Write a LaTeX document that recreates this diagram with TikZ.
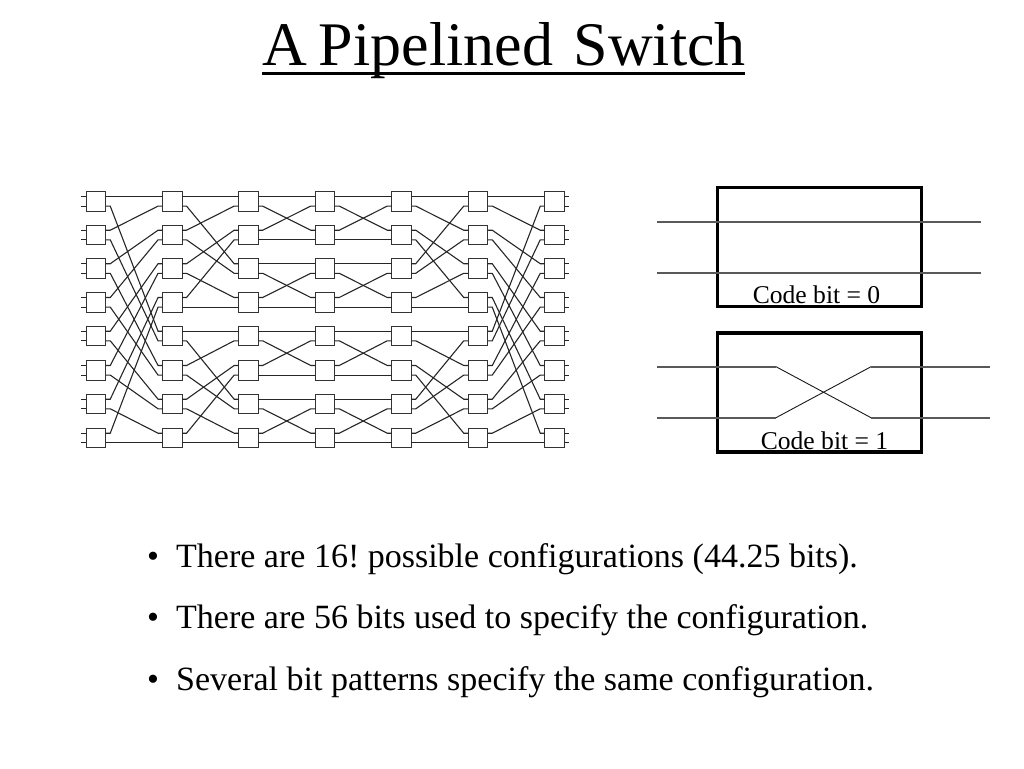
\documentclass[tikz,border=0pt]{standalone}
\usepackage{fontspec}
\setmainfont{Liberation Serif}
\tikzset{
  sw/.style={draw=black!80,line width=1.1pt,minimum width=19.5pt,minimum height=19.5pt,inner sep=0pt,outer sep=0pt},
  wire/.style={draw=black!85,line width=1.1pt},
  big/.style={draw=black,line width=3.4pt,inner sep=0pt,outer sep=0pt},
  thin/.style={draw=black!65,line width=1.6pt},
  cross/.style={draw=black!90,line width=0.9pt},
  lab/.style={font=\fontsize{25.6}{30}\selectfont,inner sep=0pt},
  bul/.style={font=\fontsize{34}{40}\selectfont,inner sep=0pt,anchor=base west},
}
\begin{document}
\frenchspacing
\begin{tikzpicture}[x=1pt,y=-1pt]
\useasboundingbox (0,0) rectangle (1024,768);
\node[inner sep=0pt,anchor=base west,font=\fontsize{62}{70}\selectfont] (title) at (262.5,65.5) {A\kern-4pt{} Pipelined\kern5pt{} Switch};
\draw[line width=3pt] (262,73) -- (745,73);
% switches
\foreach \c/\x in {0/96,1/172.3,2/248.4,3/325,4/401.5,5/478,6/554.5}{
  \foreach \r/\y in {0/201.3,1/235,2/268.5,3/302.3,4/336,5/370.3,6/404,7/438}{
    \node[sw] (s-\c-\r) at (\x,\y) {};
  }
}
% outer stubs
\foreach \r in {0,...,7}{
  \coordinate (iu-\r) at ([xshift=-5pt,yshift=4.8pt]s-0-\r.west);
  \coordinate (il-\r) at ([xshift=-5pt,yshift=-4.8pt]s-0-\r.west);
  \coordinate (ou-\r) at ([xshift=5pt,yshift=4.8pt]s-6-\r.east);
  \coordinate (ol-\r) at ([xshift=5pt,yshift=-4.8pt]s-6-\r.east);
  \draw[wire] (iu-\r) -- ([yshift=4.8pt]s-0-\r.west);
  \draw[wire] (il-\r) -- ([yshift=-4.8pt]s-0-\r.west);
  \draw[wire] ([yshift=4.8pt]s-6-\r.east) -- (ou-\r);
  \draw[wire] ([yshift=-4.8pt]s-6-\r.east) -- (ol-\r);
}
% connector: #1 col, #2 port from, #3 port to (ports 0..15); yshift is upward
\newcommand{\conn}[3]{%
  \pgfmathtruncatemacro{\ra}{int(#2/2)}%
  \pgfmathtruncatemacro{\rb}{int(#3/2)}%
  \pgfmathsetmacro{\ya}{mod(#2,2)==0 ? 4.8 : -4.8}%
  \pgfmathsetmacro{\yb}{mod(#3,2)==0 ? 4.8 : -4.8}%
  \pgfmathtruncatemacro{\cb}{#1+1}%
  \draw[wire] ([yshift=\ya pt]s-#1-\ra.east) -- ([xshift=4.5pt,yshift=\ya pt]s-#1-\ra.east) -- ([xshift=-4.5pt,yshift=\yb pt]s-\cb-\rb.west) -- ([yshift=\yb pt]s-\cb-\rb.west);%
}
% column 0 -> 1, and its mirror 5 -> 6
\foreach \p in {0,...,15}{
  \pgfmathtruncatemacro{\q}{mod(\p,2)==0 ? \p/2 : 8+(\p-1)/2}
  \conn{0}{\p}{\q}
  \conn{5}{\q}{\p}
}
% columns 1 -> 2 and 4 -> 5 within each half
\foreach \o in {0,8}{
  \foreach \p in {0,...,7}{
    \pgfmathtruncatemacro{\q}{mod(\p,2)==0 ? \p/2 : 4+(\p-1)/2}
    \pgfmathtruncatemacro{\pa}{\o+\p}
    \pgfmathtruncatemacro{\qa}{\o+\q}
    \conn{1}{\pa}{\qa}
    \conn{4}{\qa}{\pa}
  }
}
% columns 2 -> 3 and 3 -> 4 within each quarter
\foreach \o in {0,4,8,12}{
  \foreach \p/\q in {0/0,1/2,2/1,3/3}{
    \pgfmathtruncatemacro{\pa}{\o+\p}
    \pgfmathtruncatemacro{\qa}{\o+\q}
    \conn{2}{\pa}{\qa}
    \conn{3}{\pa}{\qa}
  }
}
% right boxes
\node[big,minimum width=204pt,minimum height=119pt] (b0) at (819.5,247) {};
\node[big,minimum width=204pt,minimum height=119pt] (b1) at (819.5,392.5) {};
\coordinate (a0l) at (657,221.7); \coordinate (a0r) at (981,221.7);
\coordinate (c0l) at (657,272.7); \coordinate (c0r) at (981,272.7);
\draw[thin] (a0l) -- (a0r);
\draw[thin] (c0l) -- (c0r);
\coordinate (a1l) at (657,366.7); \coordinate (a1m) at (776,366.7); \coordinate (a1n) at (871,366.7); \coordinate (a1r) at (990,366.7);
\coordinate (c1l) at (657,417.7); \coordinate (c1m) at (776,417.7); \coordinate (c1n) at (871,417.7); \coordinate (c1r) at (990,417.7);
\draw[thin] (a1l) -- (a1m);
\draw[cross] (a1m) -- (c1n);
\draw[thin] (c1n) -- (c1r);
\draw[thin] (c1l) -- (c1m);
\draw[cross] (c1m) -- (a1n);
\draw[thin] (a1n) -- (a1r);
\node[lab] (t0) at (816.5,295) {Code bit = 0};
\node[lab] (t1) at (824.5,441) {Code bit = 1};
% bullets
\node[bul] (d1) at (147,567) {•};
\node[bul] (d2) at (147,628.5) {•};
\node[bul] (d3) at (147,690) {•};
\node[bul] (l1) at (176,567) {There are 16! possible configurations (44.25 bits).};
\node[bul] (l2) at (176,628.5) {There are 56 bits used to specify the configuration.};
\node[bul] (l3) at (176,690) {Several bit patterns specify the same configuration.};
\end{tikzpicture}
\end{document}
